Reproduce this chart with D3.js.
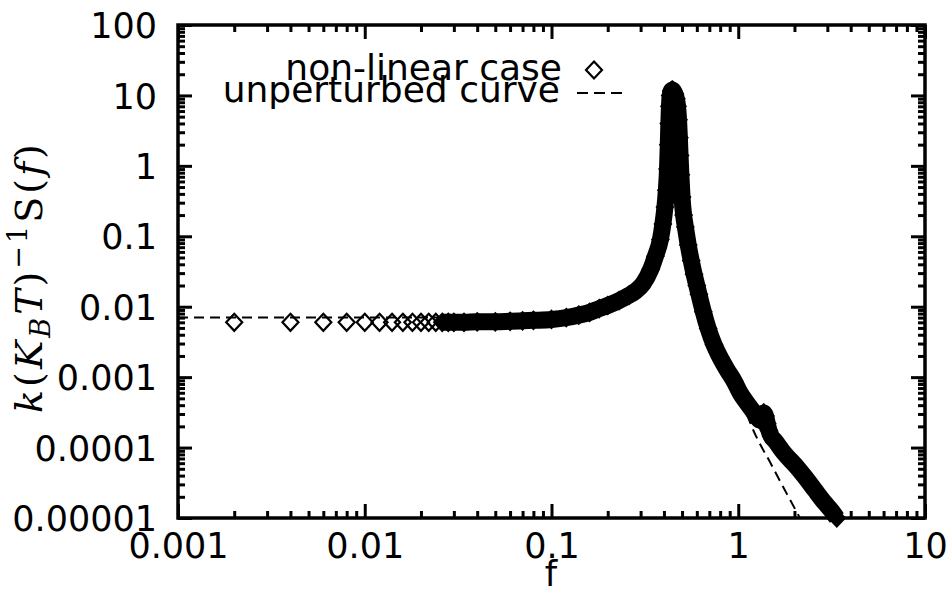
<!DOCTYPE html>
<html><head><meta charset="utf-8">
<script src="https://cdn.jsdelivr.net/npm/d3@7"></script>
<style>body{margin:0;background:#fff} svg{display:block}</style>
</head><body>
<svg id="c" width="947" height="592"></svg>
<script>
// ---- data ----
const nonlinF = [0.002,0.004,0.006,0.008,0.010,0.012,0.014,0.016,0.018,0.020,0.022,0.024,0.026,0.028,0.030,
  0.034,0.04,0.05,0.06,0.07,0.08,0.10,0.12,0.14,0.16,0.18,0.20,0.23,0.26,0.283,0.31,0.34,0.36,0.383,0.395,
  0.405,0.412,0.418,0.422,0.425,0.428,0.432,0.438,0.444,0.45,0.458,0.466,0.473,0.479,0.484,0.488,0.493,
  0.50,0.51,0.521,0.54,0.56,0.58,0.60,0.616,0.65,0.69,0.741,0.80,0.87,0.95,1.022,1.12,1.22,1.308,
  1.34,1.37,1.40,1.43,1.46,1.50,1.573,1.75,2.064,2.3,2.576,2.9,3.15,3.37];
const nonlinS = [0.0060,0.0060,0.0060,0.0060,0.0060,0.0060,0.0060,0.0060,0.0060,0.0060,0.0060,0.0060,0.0060,0.0060,0.0060,
  0.0060,0.0061,0.0061,0.0062,0.0063,0.0064,0.0066,0.0070,0.0076,0.0083,0.0094,0.0104,0.0122,0.0145,0.0168,0.0215,0.034,0.052,0.09,0.15,
  0.26,0.45,0.9,2.0,4.0,7.0,10,11.7,11.9,11.5,10.5,9.0,7.0,4.5,2.5,1.4,0.75,
  0.36,0.20,0.136,0.075,0.045,0.029,0.020,0.0150,0.0085,0.0049,0.0029,0.0019,0.00128,0.00088,0.00060,0.00042,0.00031,0.000245,
  0.00029,0.00031,0.00028,0.00022,0.000175,0.000145,0.000125,0.000085,0.0000527,0.000037,0.0000248,0.0000165,0.0000128,0.0000100];
const unpertF = [0.001,0.01,0.05,0.1,0.16,0.2,0.26,0.31,0.36,0.395,0.412,0.425,0.44,0.46,0.48,0.50,0.521,0.56,0.616,0.69,0.741,0.87,1.0,1.1,1.2,1.5,1.8,2.14];
const unpertS = [0.0070,0.0070,0.0070,0.0070,0.0083,0.0104,0.0145,0.0215,0.052,0.15,0.45,4.0,9.0,8.0,4.0,0.36,0.136,0.045,0.0150,0.0049,0.0029,0.00125,0.00060,0.00032,0.00018,0.000058,0.0000233,0.0000100];
const xTickLabels = ["0.001","0.01","0.1","1","10"];
const yTickLabels = ["0.00001","0.0001","0.001","0.01","0.1","1","10","100"];
const legendLabels = ["non-linear case","unperturbed curve"];

// ---- layout ----
const svg = d3.select("#c");
const L=178, R=925, T=25, B=518;
const x = d3.scaleLog().domain([0.001,10]).range([L,R]);
const y = d3.scaleLog().domain([1e-5,100]).range([B,T]);
const FONT = "DejaVu Sans";
const FS = 35;

const xMajor = xTickLabels.map(Number);
const yMajor = yTickLabels.map(Number);
const minorOf = maj => { const out=[]; maj.slice(0,-1).forEach(d=>{for(let k=2;k<=9;k++) out.push(d*k);}); return out; };
const xMinor = minorOf(xMajor), yMinor = minorOf(yMajor);

function styleAxis(g){
  g.select(".domain").remove();
  g.selectAll(".tick line").attr("stroke","#000").attr("stroke-width",3);
  g.selectAll(".tick text").attr("font-family",FONT).attr("font-size",FS).attr("fill","#000");
}
const MAJ=14, MIN=7;
svg.append("g").attr("transform",`translate(0,${B})`)
  .call(d3.axisBottom(x).tickValues(xMajor).tickSizeInner(-MAJ).tickSizeOuter(0).tickPadding(15).tickFormat((d,i)=>xTickLabels[i])).call(styleAxis);
svg.append("g").attr("transform",`translate(0,${B})`)
  .call(d3.axisBottom(x).tickValues(xMinor).tickSizeInner(-MIN).tickSizeOuter(0).tickFormat("")).call(styleAxis);
svg.append("g").attr("transform",`translate(0,${T})`)
  .call(d3.axisTop(x).tickValues(xMajor).tickSizeInner(-MAJ).tickSizeOuter(0).tickFormat("")).call(styleAxis);
svg.append("g").attr("transform",`translate(0,${T})`)
  .call(d3.axisTop(x).tickValues(xMinor).tickSizeInner(-MIN).tickSizeOuter(0).tickFormat("")).call(styleAxis);
const gl = svg.append("g").attr("transform",`translate(${L},0)`)
  .call(d3.axisLeft(y).tickValues(yMajor).tickSizeInner(-MAJ).tickSizeOuter(0).tickPadding(21).tickFormat((d,i)=>yTickLabels[i])).call(styleAxis);
gl.selectAll(".tick text").attr("dy","0.36em");
svg.append("g").attr("transform",`translate(${L},0)`)
  .call(d3.axisLeft(y).tickValues(yMinor).tickSizeInner(-MIN).tickSizeOuter(0).tickFormat("")).call(styleAxis);
svg.append("g").attr("transform",`translate(${R},0)`)
  .call(d3.axisRight(y).tickValues(yMajor).tickSizeInner(-MAJ).tickSizeOuter(0).tickFormat("")).call(styleAxis);
svg.append("g").attr("transform",`translate(${R},0)`)
  .call(d3.axisRight(y).tickValues(yMinor).tickSizeInner(-MIN).tickSizeOuter(0).tickFormat("")).call(styleAxis);

// unperturbed curve (dashed)
const unpert = unpertF.map((f,i)=>({f,s:unpertS[i]}));
const line = d3.line().x(d=>x(d.f)).y(d=>y(d.s)).curve(d3.curveMonotoneX);
svg.append("path").datum(unpert).attr("d",line).attr("fill","none").attr("stroke","#000")
  .attr("stroke-width",2).attr("stroke-dasharray","10,6");

// non-linear case: diamonds; where they are dense they merge into a solid band
const DENSE = 0.026;
const nonlin = nonlinF.map((f,i)=>({f,s:nonlinS[i]}));
const dense = nonlin.filter(d=>d.f>=DENSE);
svg.append("path").datum(dense).attr("d",line).attr("fill","none").attr("stroke","#000")
  .attr("stroke-width",17).attr("stroke-linejoin","round");
const diamond = "M0,-8.5L8,0L0,8.5L-8,0Z";
svg.append("g").selectAll("path").data(nonlin).join("path")
  .attr("transform",d=>`translate(${x(d.f)},${y(d.s)})`).attr("d",diamond)
  .attr("fill",d=>d.f>=DENSE?"#000":"none").attr("stroke","#000").attr("stroke-width",2.2);

// frame
svg.append("rect").attr("x",L).attr("y",T).attr("width",R-L).attr("height",B-T)
  .attr("fill","none").attr("stroke","#000").attr("stroke-width",3.5);

// legend
const lg = svg.append("g").attr("font-family",FONT).attr("font-size",36).attr("fill","#000");
lg.append("text").attr("x",562).attr("y",80).attr("text-anchor","end").text(legendLabels[0]);
lg.append("text").attr("x",560).attr("y",102).attr("text-anchor","end").text(legendLabels[1]);
svg.append("path").attr("transform","translate(594,70)").attr("d",diamond).attr("fill","none").attr("stroke","#000").attr("stroke-width",2.2);
svg.append("line").attr("x1",577).attr("x2",622).attr("y1",93).attr("y2",93).attr("stroke","#000").attr("stroke-width",2).attr("stroke-dasharray","11,6");

// axis titles
svg.append("text").attr("x",551).attr("y",586).attr("text-anchor","middle")
  .attr("font-family",FONT).attr("font-size",FS).text("f");
const yt = svg.append("text").attr("transform","translate(42,277) rotate(-90)").attr("text-anchor","middle")
  .attr("font-family","DejaVu Serif").attr("font-size",38).attr("letter-spacing",3).attr("fill","#000");
yt.append("tspan").attr("font-style","italic").text("k");
yt.append("tspan").text("(");
yt.append("tspan").attr("font-style","italic").text("K");
yt.append("tspan").attr("font-style","italic").attr("font-size",27).attr("dy",8).text("B");
yt.append("tspan").attr("font-style","italic").attr("dy",-8).text("T");
yt.append("tspan").text(")");
yt.append("tspan").attr("font-size",27).attr("dy",-15).text("−1");
yt.append("tspan").attr("dy",15).text("S");
yt.append("tspan").text("(");
yt.append("tspan").attr("font-style","italic").text("f");
yt.append("tspan").text(")");
</script>
</body></html>
